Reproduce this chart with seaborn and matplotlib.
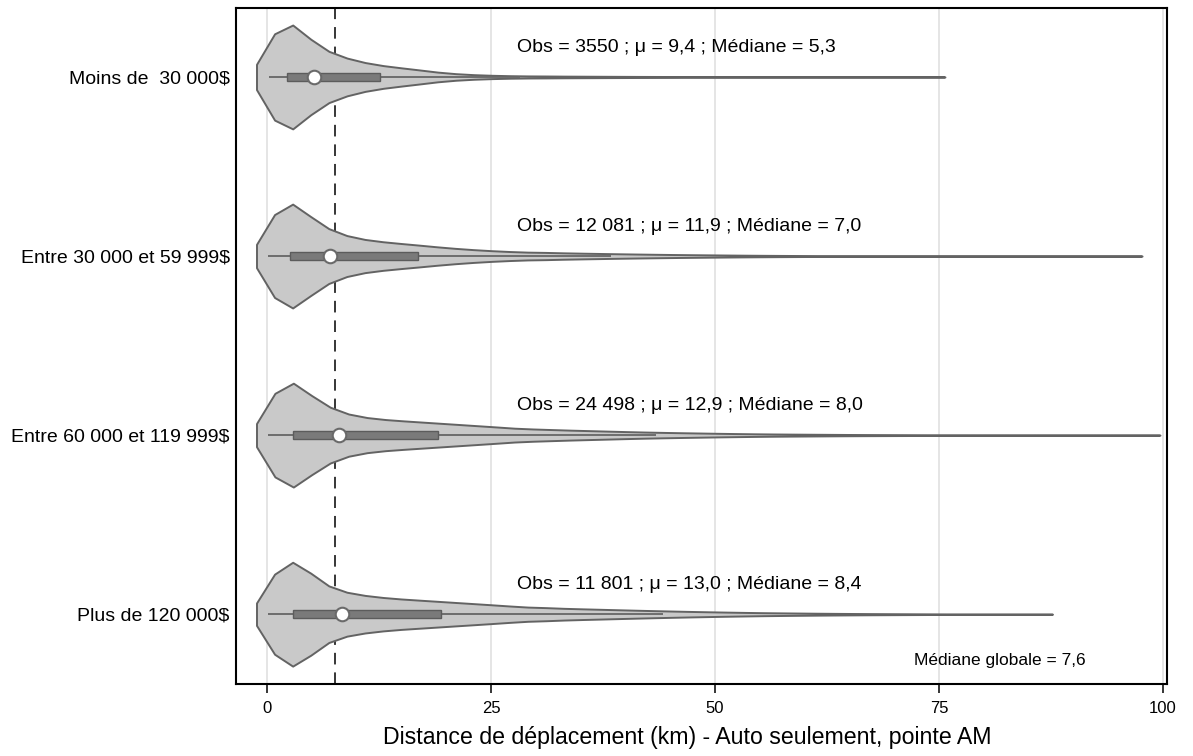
import numpy as np
import pandas as pd
import matplotlib
matplotlib.use("Agg")
import matplotlib.pyplot as plt
import seaborn as sns

# ---------------- data ----------------
groups = ["Moins de  30 000$", "Entre 30 000 et 59 999$",
          "Entre 60 000 et 119 999$", "Plus de 120 000$"]
obs_labels = ["3550", "12 081", "24 498", "11 801"]
means = [9.4, 11.9, 12.9, 13.0]
medians = [5.3, 7.0, 8.0, 8.4]
q1 = [2.2, 2.6, 2.9, 2.9]
q3 = [12.6, 16.9, 19.1, 19.4]
whisk_lo = [0.25, 0.15, 0.15, 0.15]
whisk_hi = [28.2, 38.4, 43.4, 44.2]
global_median = 7.6
x_ticks = [0, 25, 50, 75, 100]

# distance bands (km, band centres: 1 km bands up to 29, then 2 km bands)
distance_km = [0, 1, 2, 3, 4, 5, 6, 7, 8, 9, 10, 11, 12, 13, 14, 15, 16, 17, 18, 19,
               20, 21, 22, 23, 24, 25, 26, 27, 28, 29,
               30.5, 32.5, 34.5, 36.5, 38.5, 40.5, 42.5, 44.5, 46.5, 48.5,
               50.5, 52.5, 54.5, 56.5, 58.5, 60.5, 62.5, 64.5, 66.5, 68.5,
               70.5, 72.5, 74.5, 76.5, 78.5, 80.5, 82.5, 84.5, 86.5, 88.5,
               90.5, 92.5, 94.5, 96.5, 98.5]
# estimated trip counts per band
counts_lt30 = [257, 382, 415, 415, 315, 241, 199, 174, 149, 129,
               112, 100, 87, 79, 71, 64, 58, 50, 42, 33,
               27, 23, 19, 16, 13, 12, 10, 9, 8, 7,
               14, 12, 11, 10, 9, 8, 7, 7, 6, 5,
               4, 4, 3, 3, 2, 2, 2, 2, 2, 1,
               1, 1, 1, 0, 0, 0, 0, 0, 0, 0,
               0, 0, 0, 0, 0]
counts_30_60 = [635, 1015, 1154, 1131, 900, 715, 600, 508, 439, 381,
                346, 317, 294, 277, 260, 242, 231, 213, 196, 179,
                162, 150, 136, 125, 113, 104, 96, 89, 82, 76,
                143, 129, 115, 104, 92, 81, 72, 62, 55, 48,
                42, 35, 30, 25, 22, 18, 16, 14, 12, 10,
                9, 8, 7, 6, 6, 5, 4, 4, 3, 3,
                3, 2, 2, 1, 0]
counts_60_120 = [1122, 1795, 2040, 2020, 1632, 1306, 1102, 959, 816, 714,
                 653, 612, 571, 541, 520, 500, 479, 459, 439, 418,
                 398, 377, 357, 337, 316, 296, 275, 255, 235, 218,
                 404, 367, 335, 302, 269, 237, 208, 184, 163, 143,
                 122, 106, 90, 78, 69, 61, 53, 45, 39, 35,
                 31, 27, 24, 20, 18, 16, 14, 12, 11, 9,
                 8, 7, 5, 4, 3]
counts_gt120 = [505, 789, 918, 918, 799, 624, 496, 422, 376, 340,
                317, 298, 280, 266, 252, 243, 234, 225, 216, 207,
                197, 188, 179, 170, 161, 151, 142, 133, 124, 115,
                211, 193, 176, 162, 147, 132, 118, 105, 92, 81,
                70, 61, 51, 44, 39, 33, 28, 24, 20, 17,
                15, 12, 10, 9, 7, 6, 5, 4, 3, 0,
                0, 0, 0, 0, 0]

all_counts = [counts_lt30, counts_30_60, counts_60_120, counts_gt120]
# density evaluation points per violin (gives ~2 km polygon steps, as in the original)
grid_sizes = [39, 50, 50, 45]

frames = []
for g, c in zip(groups, all_counts):
    vals = np.repeat(np.asarray(distance_km, float), c)
    frames.append(pd.DataFrame({"distance": vals, "group": g}))
df = pd.concat(frames, ignore_index=True)


def fmt(v):
    return f"{v:.1f}".replace(".", ",")


# ---------------- style ----------------
sns.set_style("white")
plt.rcParams["font.family"] = ["Liberation Sans", "DejaVu Sans"]

fig, ax = plt.subplots(figsize=(11.93, 7.56), dpi=100)
fig.subplots_adjust(left=0.1978, right=0.9782, top=0.9894, bottom=0.0952)

ax.set_axisbelow(True)
ax.grid(axis="x", color="#dedede", linewidth=1.1, zorder=0.5)
ax.axvline(global_median, color="black", linewidth=1.1,
           linestyle=(0, (7.6, 5.2)), zorder=0.8)

for g, gs in zip(groups, grid_sizes):
    sns.violinplot(data=df[df["group"] == g], x="distance", y="group",
                   order=groups, orient="h",
                   inner=None, color="#c9c9c9", saturation=1,
                   linecolor="#636363", linewidth=1.4, width=0.58,
                   density_norm="width", cut=0.9, gridsize=gs,
                   bw_method=lambda k: 1.3 / k.dataset.std(), ax=ax)

pos = np.arange(len(groups))
ax.hlines(pos, whisk_lo, whisk_hi, colors="#666666", linewidth=1.3, zorder=3)
ax.barh(pos, np.subtract(q3, q1), left=q1, height=0.046, color="#7a7a7a",
        edgecolor="#5c5c5c", linewidth=1.0, zorder=4)
ax.scatter(medians, pos, s=95, color="white", edgecolors="#6a6a6a",
           linewidths=1.5, zorder=5)

for i in range(len(groups)):
    ax.text(27.85, pos[i] - 0.142,
            f"Obs = {obs_labels[i]} ; \u03bc = {fmt(means[i])} ; M\u00e9diane = {fmt(medians[i])}",
            fontsize=14, ha="left", va="baseline", color="black")

ax.text(91.4, 3.26, f"M\u00e9diane globale = {fmt(global_median)}",
        fontsize=12.5, ha="right", va="center", color="black")

ax.set_xlim(-3.46, 100.45)
ax.set_ylim(3.39, -0.385)
ax.set_xticks(x_ticks)
ax.set_xticklabels([str(t) for t in x_ticks], fontsize=12)
ax.set_yticks(pos)
ax.set_yticklabels(groups, fontsize=14)
ax.tick_params(axis="x", length=6.5, width=1.1, color="black", labelcolor="black",
               pad=6, direction="out", bottom=True)
ax.tick_params(axis="y", length=0, pad=4.5, labelcolor="black")
ax.set_ylabel("")
ax.set_xlabel("Distance de d\u00e9placement (km) - Auto seulement, pointe AM",
              fontsize=16.7, color="black")
ax.xaxis.set_label_coords(0.485, -0.062)

for s in ax.spines.values():
    s.set_visible(True)
    s.set_color("black")
    s.set_linewidth(1.5)

fig.savefig("out.png", dpi=100, facecolor="white")
